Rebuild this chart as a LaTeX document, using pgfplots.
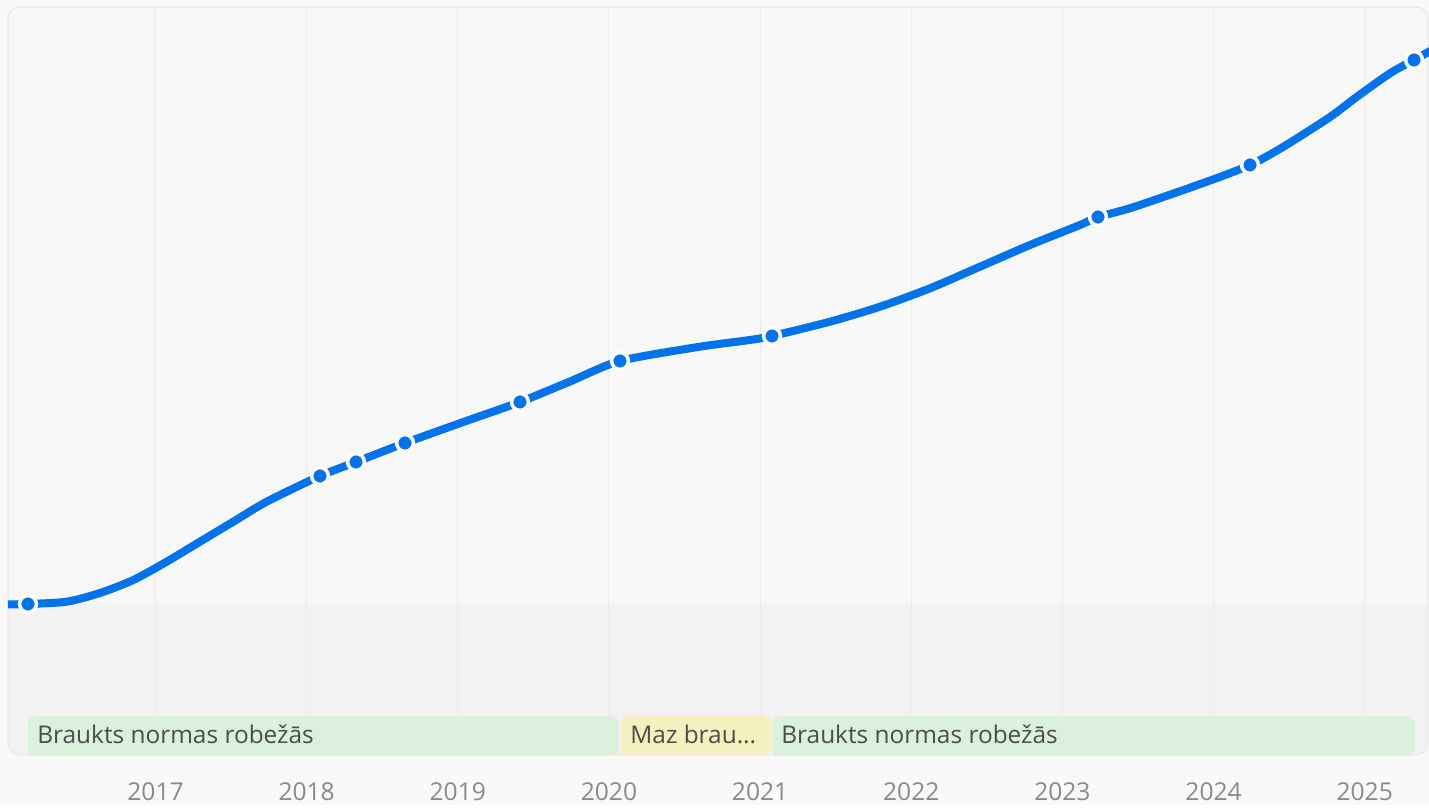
\documentclass[border=0pt]{standalone}
\usepackage{fontspec}
\setmainfont{Open Sans}
\usepackage{pgfplots}
\pgfplotsset{compat=1.18}
\definecolor{pagebg}{HTML}{F9F9F9}
\definecolor{panel}{HTML}{F8F8F8}
\definecolor{panellow}{HTML}{F2F2F2}
\definecolor{panelborder}{HTML}{EAEAEA}
\definecolor{gridc}{HTML}{ECECEC}
\definecolor{bandgreen}{HTML}{D9F0DB}
\definecolor{bandyellow}{HTML}{F6F0BA}
\definecolor{bandtext}{HTML}{4D4D4D}
\definecolor{ticktext}{HTML}{8A8A8A}
\definecolor{lineblue}{HTML}{0073EA}
\begin{document}
\begin{tikzpicture}
\fill[pagebg] (0,0) rectangle (714.5pt,402.5pt);
\begin{axis}[
  at={(0,0)}, anchor=south west,
  width=714.5pt, height=402.5pt, scale only axis,
  xmin=2015.9712, xmax=2025.4254,
  ymin=0, ymax=805,
  axis line style={draw=none},
  major tick style={draw=none},
  minor tick style={draw=none},
  ytick=\empty,
  xtick={2017,2018,2019,2020,2021,2022,2023,2024,2025},
  xticklabels={2017,2018,2019,2020,2021,2022,2023,2024,2025},
  xticklabel style={anchor=center, yshift=6.5pt, font=\fontsize{12.3}{14}\selectfont, text=ticktext},
  /pgf/number format/assume math mode=true,
  clip=true,
]
% panel
\fill[panel, rounded corners=6pt] (axis cs:2016.0241,50) rectangle (axis cs:2025.4188,798);
\fill[panellow, rounded corners=6pt] (axis cs:2016.0241,50) rectangle (axis cs:2025.4188,201);
\fill[panellow] (axis cs:2016.0241,150) rectangle (axis cs:2025.4188,201);
\draw[panelborder, line width=0.6pt, rounded corners=6pt] (axis cs:2016.0241,50) rectangle (axis cs:2025.4188,798);
% grid lines
\pgfplotsinvokeforeach{2017,2018,2019,2020,2021,2022,2023,2024,2025}{
  \draw[gridc, line width=0.5pt] (axis cs:#1,50) -- (axis cs:#1,798);
}
% bands
\fill[bandgreen, opacity=0.9, rounded corners=4pt] (axis cs:2016.1565,50) -- (axis cs:2016.1565,89) -- (axis cs:2020.0665,89) -- (axis cs:2020.0665,50) [sharp corners] -- cycle;
\fill[bandyellow, opacity=0.9, rounded corners=4pt] (axis cs:2020.0798,50) -- (axis cs:2020.0798,89) -- (axis cs:2021.0787,89) -- (axis cs:2021.0787,50) [sharp corners] -- cycle;
\fill[bandgreen, opacity=0.9, rounded corners=4pt] (axis cs:2021.0853,50) -- (axis cs:2021.0853,89) -- (axis cs:2025.3328,89) -- (axis cs:2025.3328,50) [sharp corners] -- cycle;
\node[anchor=base west, inner sep=0pt, text=bandtext, font=\fontsize{12.2}{14}\selectfont] at (axis cs:2016.216,61) {Braukts normas robežās};
\node[anchor=base west, inner sep=0pt, text=bandtext, font=\fontsize{12.2}{14}\selectfont] at (axis cs:2020.1393,61) {Maz brau...};
\node[anchor=base west, inner sep=0pt, text=bandtext, font=\fontsize{12.2}{14}\selectfont] at (axis cs:2021.1383,61) {Braukts normas robežās};
% line
\addplot[lineblue, line width=4pt, smooth, tension=0.45] coordinates {
  (2016.0241,200.5) (2016.1565,201) (2016.4125,203.3) (2016.6328,212)
  (2016.8531,225) (2017.0741,243.3) (2017.2944,263.3) (2017.5147,283.3)
  (2017.7357,303.3) (2018.0883,329) (2018.3265,343)
  (2018.6507,362) (2019.0278,382.5) (2019.4115,403) (2019.7423,423.5)
  (2020.0731,444) (2020.6024,458.3) (2020.9332,465)
  (2021.0787,469) (2021.4625,483.3) (2021.7933,498.3) (2022.1241,516.7)
  (2022.4549,538.3) (2022.7857,560) (2023.1164,580) (2023.2355,588)
  (2023.5134,600) (2024.2412,640)
  (2024.7241,683.3) (2024.9491,708.3) (2025.1674,731.7) (2025.3262,745)
  (2025.4254,753.3) (2025.4982,759)
};
% markers
\addplot[only marks, mark=*, mark size=4.2pt, mark options={fill=lineblue, draw=white, line width=1.75pt}] coordinates {
  (2016.1565,201) (2018.0883,329) (2018.3265,343) (2018.6507,362)
  (2019.4115,403) (2020.0731,444) (2021.0787,469) (2023.2355,588)
  (2024.2412,640) (2025.3262,745)
};
\end{axis}
\end{tikzpicture}
\end{document}
